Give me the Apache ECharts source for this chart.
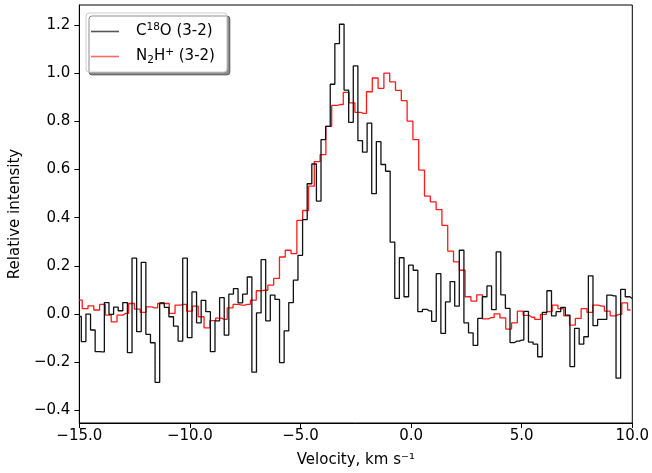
<!DOCTYPE html>
<html>
<head>
<meta charset="utf-8">
<script src="https://cdn.jsdelivr.net/npm/echarts@6/dist/echarts.min.js"></script>
<style>
html,body{margin:0;padding:0;background:#fff;}
#chart{width:652px;height:473px;}
</style>
</head>
<body>
<div id="chart"></div>
<script>
// C18O (3-2): channel grid (first channel centre, channel width) and intensities
const c18oV0 = -15.014;
const c18oDv = 0.2084;
const c18oVals = [
  -0.010, -0.114, 0.000, -0.066, -0.156, -0.157, 0.048, -0.001, 0.029, 0.014,
  0.048, -0.160, 0.232, -0.073, 0.215, -0.084, -0.119, -0.283, 0.046, 0.028,
  -0.011, -0.050, -0.112, 0.232, -0.098, 0.092, -0.036, 0.057, 0.010, -0.156,
  -0.028, 0.068, -0.087, 0.083, 0.106, 0.047, 0.083, 0.154, -0.241, 0.005,
  0.226, -0.028, 0.079, 0.061, -0.201, -0.070, 0.048, 0.141, 0.244, 0.392,
  0.541, 0.623, 0.469, 0.724, 0.779, 0.954, 1.123, 1.203, 0.930, 0.796,
  1.030, 0.720, 0.672, 0.793, 0.500, 0.716, 0.621, 0.593, 0.299, 0.065,
  0.234, 0.072, 0.203, 0.182, 0.010, 0.020, 0.013, -0.030, 0.168, -0.080,
  0.051, 0.135, 0.033, 0.265, -0.036, -0.078, -0.130, -0.018, 0.072, 0.117,
  0.019, 0.258, 0.080, 0.024, -0.118, -0.112, -0.108, 0.011, -0.116, -0.125,
  -0.177, 0.007, 0.097, -0.007, 0.010, 0.028, -0.004, -0.218, -0.059, -0.125,
  -0.094, 0.159, -0.048, -0.022, -0.022, 0.079, 0.076, -0.266, 0.103, 0.072,
  0.065
];
// N2H+ (3-2)
const n2hpV0 = -15.001;
const n2hpDv = 0.2623;
const n2hpVals = [
  0.058, 0.023, 0.034, 0.017, 0.040, -0.004, -0.032, -0.004, 0.003, 0.044,
  0.021, 0.007, 0.030, 0.026, 0.044, 0.044, 0.003, 0.037, 0.040, 0.012,
  0.033, -0.011, -0.057, -0.027, -0.017, -0.022, 0.026, 0.040, 0.037, 0.040,
  0.058, 0.097, 0.099, 0.120, 0.148, 0.237, 0.265, 0.251, 0.389, 0.430,
  0.531, 0.633, 0.662, 0.779, 0.866, 0.870, 0.920, 0.877, 0.837, 0.833,
  0.923, 0.980, 0.937, 1.000, 0.964, 0.929, 0.886, 0.801, 0.724, 0.598,
  0.490, 0.466, 0.434, 0.368, 0.261, 0.217, 0.182, 0.072, 0.054, 0.080,
  -0.020, -0.015, 0.001, -0.016, -0.062, -0.036, 0.012, -0.005, -0.013, -0.022,
  -0.001, 0.010, 0.037, 0.023, -0.007, -0.046, -0.018, 0.023, 0.007, 0.037,
  0.033, 0.012, -0.007, -0.001, 0.047, 0.017
];
const xTicks = [-15, -10, -5, 0, 5, 10];
const yTicks = [-0.4, -0.2, 0.0, 0.2, 0.4, 0.6, 0.8, 1.0, 1.2];
const seriesNames = ['C18O', 'N2H+'];

function toPairs(v0, dv, vals) {
  return vals.map((y, i) => [v0 + i * dv, y]);
}
function fmt(v) {
  const s = Math.abs(v).toFixed(1);
  return (v < -1e-9 ? '\u2212' : '') + s;
}

const FONT = 'DejaVu Sans';
const FS = 15;
const chart = echarts.init(document.getElementById('chart'), null, {renderer: 'canvas'});
chart.setOption({
  animation: false,
  backgroundColor: '#ffffff',
  grid: {left: 78, right: 17, top: 5, bottom: 48, show: true, borderColor: '#000', borderWidth: 1, backgroundColor: 'transparent'},
  legend: {
    data: seriesNames,
    orient: 'vertical',
    left: 86, top: 13,
    icon: 'rect',
    itemWidth: 28, itemHeight: 1.6, itemGap: 8,
    padding: [9, 12, 6, 5],
    backgroundColor: '#fff',
    borderColor: '#cccccc', borderWidth: 1, borderRadius: 3,
    shadowColor: 'rgba(0,0,0,0.45)', shadowOffsetX: 3, shadowOffsetY: 3, shadowBlur: 0,
    formatter: function (name) {
      if (name === 'C18O') return '{a|C}{sup|18}{a|O (3-2)}';
      return '{a|N}{sub|2}{a|H}{sup|+}{a| (3-2)}';
    },
    textStyle: {
      fontFamily: FONT, fontSize: FS, color: '#000', padding: [0, 0, 0, 12],
      rich: {
        a: {fontFamily: FONT, fontSize: FS, color: '#000', lineHeight: 19},
        sup: {fontFamily: FONT, fontSize: 10.5, color: '#000', lineHeight: 10, verticalAlign: 'top'},
        sub: {fontFamily: FONT, fontSize: 10.5, color: '#000', lineHeight: 10, verticalAlign: 'bottom'}
      }
    }
  },
  xAxis: {
    type: 'value', min: -15, max: 10, interval: 5,
    name: 'Velocity, km s\u207B\u00B9', nameLocation: 'middle', nameGap: 30,
    nameTextStyle: {fontFamily: FONT, fontSize: FS, color: '#000'},
    axisLine: {show: true, onZero: false, lineStyle: {color: '#000', width: 1}},
    axisTick: {show: true, inside: false, length: 5, lineStyle: {color: '#000'}, customValues: xTicks},
    axisLabel: {fontFamily: FONT, fontSize: FS, color: '#000', margin: 6, formatter: fmt, customValues: xTicks, showMinLabel: true, showMaxLabel: true},
    splitLine: {show: false}
  },
  yAxis: {
    type: 'value', min: -0.452, max: 1.283,
    name: 'Relative intensity', nameLocation: 'middle', nameGap: 53,
    nameTextStyle: {fontFamily: FONT, fontSize: FS, color: '#000'},
    axisLine: {show: true, onZero: false, lineStyle: {color: '#000', width: 1}},
    axisTick: {show: true, inside: false, length: 5, lineStyle: {color: '#000'}, customValues: yTicks},
    axisLabel: {fontFamily: FONT, fontSize: FS, color: '#000', margin: 9, formatter: fmt, customValues: yTicks},
    splitLine: {show: false}
  },
  series: [
    {
      name: 'C18O', type: 'line', step: 'middle', symbol: 'none', clip: true,
      data: toPairs(c18oV0, c18oDv, c18oVals),
      lineStyle: {color: '#111', width: 1.3},
      itemStyle: {color: '#555'},
      z: 3
    },
    {
      name: 'N2H+', type: 'line', step: 'middle', symbol: 'none', clip: true,
      data: toPairs(n2hpV0, n2hpDv, n2hpVals),
      lineStyle: {color: '#ff1a1a', width: 1.3},
      itemStyle: {color: '#ff6666'},
      z: 2
    }
  ]
});
</script>
</body>
</html>
